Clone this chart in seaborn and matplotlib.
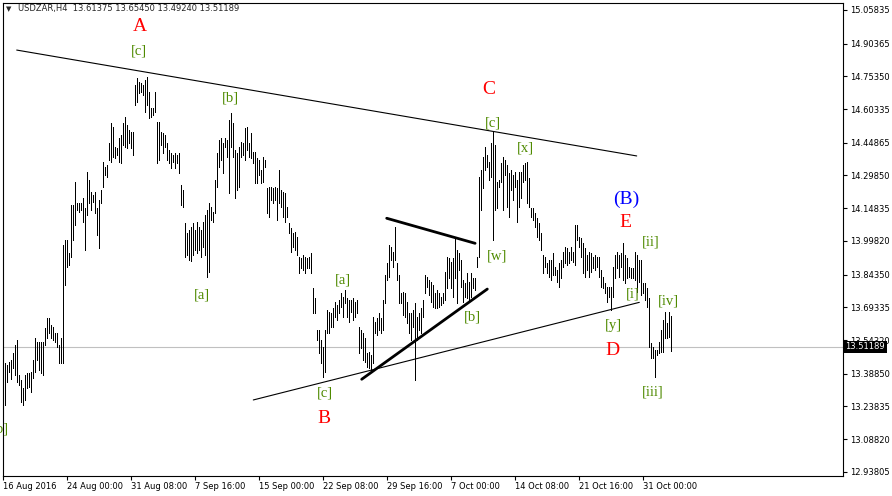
import numpy as np
import pandas as pd
import matplotlib
matplotlib.use("Agg")
import matplotlib.pyplot as plt
import matplotlib.transforms as mtransforms
import seaborn as sns

# ---------------- data ----------------
symbol = "USDZAR,H4"
last_ohlc = ["13.61375", "13.65450", "13.49240", "13.51189"]
last_price = 13.51189

highs = [
    13.383, 13.438, 13.429, 13.442, 13.452, 13.484, 13.520, 13.543, 13.383, 13.360,
    13.323, 13.383, 13.392, 13.392, 13.397, 13.452, 13.553, 13.534, 13.534, 13.534,
    13.534, 13.598, 13.644, 13.644, 13.612, 13.603, 13.576, 13.576, 13.520, 13.553,
    13.979, 14.002, 14.002, 13.943, 14.163, 14.163, 14.269, 14.172, 14.172, 14.172,
    14.195, 14.149, 14.315, 14.278, 14.223, 14.209, 14.223, 14.149, 14.186, 14.232,
    14.360, 14.337, 14.347, 14.448, 14.539, 14.521, 14.429, 14.425, 14.471, 14.484,
    14.539, 14.567, 14.530, 14.507, 14.498, 14.498, 14.714, 14.746, 14.728, 14.723,
    14.714, 14.737, 14.751, 14.682, 14.608, 14.608, 14.682, 14.544, 14.544, 14.498,
    14.494, 14.484, 14.448, 14.416, 14.402, 14.393, 14.402, 14.393, 14.402, 14.255,
    14.232, 14.080, 14.034, 14.048, 14.062, 14.080, 14.048, 14.085, 14.062, 14.048,
    14.085, 14.117, 14.140, 14.172, 14.154, 14.131, 14.278, 14.402, 14.461, 14.471,
    14.448, 14.471, 14.461, 14.553, 14.585, 14.539, 14.416, 14.402, 14.429, 14.452,
    14.448, 14.516, 14.521, 14.448, 14.494, 14.406, 14.406, 14.379, 14.370, 14.324,
    14.383, 14.370, 14.241, 14.246, 14.246, 14.241, 14.246, 14.241, 14.324, 14.232,
    14.223, 14.218, 14.154, 14.080, 14.057, 14.034, 14.039, 14.016, 13.924, 13.920,
    13.934, 13.924, 13.920, 13.924, 13.943, 13.782, 13.736, 13.589, 13.589, 13.543,
    13.511, 13.589, 13.681, 13.672, 13.667, 13.690, 13.718, 13.704, 13.727, 13.759,
    13.741, 13.773, 13.736, 13.727, 13.727, 13.736, 13.718, 13.727, 13.603, 13.589,
    13.576, 13.553, 13.484, 13.488, 13.475, 13.649, 13.626, 13.644, 13.667, 13.644,
    13.727, 13.842, 13.897, 13.979, 13.970, 13.947, 14.062, 13.897, 13.842, 13.759,
    13.764, 13.759, 13.718, 13.667, 13.667, 13.681, 13.713, 13.649, 13.667, 13.690,
    13.727, 13.842, 13.833, 13.819, 13.810, 13.796, 13.759, 13.773, 13.759, 13.741,
    13.759, 13.856, 13.924, 13.920, 13.901, 13.920, 14.016, 13.956, 13.943, 13.911,
    13.819, 13.805, 13.851, 13.810, 13.851, 13.828, 13.828, 13.924, 14.292, 14.324,
    14.383, 14.429, 14.393, 14.360, 14.448, 14.498, 14.438, 14.269, 14.278, 14.356,
    14.383, 14.370, 14.347, 14.310, 14.324, 14.301, 14.315, 14.278, 14.315, 14.315,
    14.347, 14.356, 14.360, 14.287, 14.149, 14.149, 14.126, 14.103, 14.080, 14.034,
    13.934, 13.924, 13.897, 13.911, 13.911, 13.943, 13.878, 13.865, 13.897, 13.911,
    13.947, 13.970, 13.966, 13.947, 13.970, 13.947, 14.071, 14.071, 14.016, 14.012,
    13.989, 13.966, 13.934, 13.947, 13.943, 13.924, 13.934, 13.924, 13.924, 13.865,
    13.833, 13.805, 13.787, 13.787, 13.787, 13.878, 13.934, 13.947, 13.934, 13.943,
    13.989, 13.934, 13.920, 13.878, 13.874, 13.874, 13.947, 13.934, 13.911, 13.911,
    13.805, 13.805, 13.782, 13.736, 13.530, 13.511, 13.498, 13.498, 13.534, 13.589,
    13.635, 13.672, 13.621, 13.672, 13.6545,
]

lows = [
    13.222, 13.245, 13.351, 13.397, 13.364, 13.415, 13.383, 13.351, 13.337, 13.259,
    13.245, 13.268, 13.323, 13.328, 13.305, 13.369, 13.397, 13.452, 13.406, 13.392,
    13.383, 13.520, 13.553, 13.576, 13.553, 13.543, 13.534, 13.511, 13.438, 13.438,
    13.438, 13.796, 13.878, 13.888, 13.924, 14.002, 14.071, 14.140, 14.131, 14.140,
    14.085, 13.956, 14.117, 14.172, 14.140, 14.177, 14.126, 14.025, 13.966, 14.172,
    14.246, 14.301, 14.292, 14.370, 14.360, 14.383, 14.379, 14.393, 14.360, 14.356,
    14.438, 14.429, 14.425, 14.448, 14.425, 14.393, 14.622, 14.636, 14.677, 14.682,
    14.668, 14.590, 14.622, 14.562, 14.567, 14.576, 14.590, 14.356, 14.370, 14.438,
    14.402, 14.429, 14.370, 14.356, 14.333, 14.360, 14.333, 14.356, 14.310, 14.163,
    14.154, 13.924, 13.934, 13.911, 13.906, 13.934, 13.956, 13.943, 13.956, 13.924,
    13.970, 13.934, 13.833, 13.856, 14.094, 14.085, 14.126, 14.246, 14.337, 14.370,
    14.310, 14.429, 14.383, 14.218, 14.429, 14.383, 14.195, 14.232, 14.246, 14.383,
    14.393, 14.370, 14.416, 14.383, 14.379, 14.356, 14.264, 14.264, 14.301, 14.264,
    14.269, 14.337, 14.126, 14.108, 14.186, 14.172, 14.186, 14.094, 14.172, 14.154,
    14.108, 14.085, 14.108, 14.034, 13.947, 13.970, 13.956, 13.934, 13.851, 13.874,
    13.865, 13.851, 13.874, 13.874, 13.851, 13.667, 13.667, 13.543, 13.484, 13.438,
    13.374, 13.397, 13.576, 13.576, 13.603, 13.603, 13.649, 13.635, 13.667, 13.695,
    13.649, 13.713, 13.649, 13.626, 13.672, 13.635, 13.649, 13.667, 13.484, 13.507,
    13.452, 13.442, 13.419, 13.415, 13.397, 13.438, 13.576, 13.566, 13.589, 13.576,
    13.589, 13.713, 13.819, 13.833, 13.911, 13.878, 13.911, 13.819, 13.713, 13.713,
    13.658, 13.649, 13.621, 13.576, 13.543, 13.603, 13.360, 13.543, 13.589, 13.576,
    13.649, 13.759, 13.787, 13.750, 13.718, 13.695, 13.690, 13.690, 13.695, 13.704,
    13.713, 13.727, 13.782, 13.828, 13.782, 13.741, 13.828, 13.713, 13.865, 13.787,
    13.718, 13.741, 13.736, 13.718, 13.741, 13.782, 13.773, 13.878, 13.924, 14.140,
    14.241, 14.324, 14.337, 14.278, 14.292, 14.002, 14.140, 14.149, 14.246, 14.269,
    14.140, 14.301, 14.154, 14.108, 14.232, 14.186, 14.246, 14.085, 14.154, 14.195,
    14.269, 14.278, 14.172, 14.154, 14.108, 14.094, 14.062, 14.016, 14.002, 13.956,
    13.851, 13.878, 13.851, 13.833, 13.819, 13.842, 13.842, 13.810, 13.787, 13.828,
    13.878, 13.897, 13.888, 13.897, 13.911, 13.901, 13.888, 14.002, 13.970, 13.924,
    13.851, 13.833, 13.865, 13.833, 13.856, 13.874, 13.865, 13.878, 13.833, 13.787,
    13.782, 13.759, 13.718, 13.741, 13.681, 13.741, 13.828, 13.874, 13.833, 13.878,
    13.819, 13.805, 13.828, 13.833, 13.828, 13.828, 13.819, 13.764, 13.810, 13.750,
    13.759, 13.727, 13.695, 13.511, 13.461, 13.461, 13.374, 13.475, 13.484, 13.488,
    13.488, 13.553, 13.553, 13.557, 13.4924,
]

date_labels = ["16 Aug 2016", "24 Aug 00:00", "31 Aug 08:00", "7 Sep 16:00",
               "15 Sep 00:00", "22 Sep 08:00", "29 Sep 16:00", "7 Oct 00:00",
               "14 Oct 08:00", "21 Oct 16:00", "31 Oct 00:00"]
bars_per_label = 32

price_ticks = [15.05835, 14.90365, 14.75350, 14.60335, 14.44865, 14.29850,
               14.14835, 13.99820, 13.84350, 13.69335, 13.54320, 13.38850,
               13.23835, 13.08820, 12.93805]

# drawn trend lines (bar index / price anchors)
line_start_bar = [6.7, 125.0, 191.7, 179.2]
line_start_price = [14.874, 13.268, 14.102, 13.363]
line_end_bar = [316.7, 318.0, 235.9, 242.0]
line_end_price = [14.388, 13.716, 13.987, 13.777]
line_heavy = [False, False, True, True]

# wave labels
wave_text = ["A", "[c]", "[b]", "[a]", "[b]", "C", "[c]", "[x]", "[a]", "[c]",
             "B", "[w]", "[b]", "(B)", "E", "[ii]", "[i]", "[iv]", "[y]", "D", "[iii]"]
wave_bar = [68.4, 68.0, 113.7, 99.2, -1.2, 242.9, 245.0, 260.9, 170.0, 160.9,
            160.4, 247.0, 234.7, 311.7, 310.9, 323.7, 314.7, 332.5, 305.0, 304.7, 324.7]
wave_price = [14.981, 14.871, 14.653, 13.750, 13.135, 14.695, 14.541, 14.426, 13.819, 13.299,
              13.181, 13.930, 13.650, 14.191, 14.082, 13.995, 13.755, 13.722, 13.609, 13.494, 13.306]
wave_color = ["red", "olive", "olive", "olive", "olive", "red", "olive", "olive", "olive", "olive",
              "red", "olive", "olive", "blue", "red", "olive", "olive", "olive", "olive", "red", "olive"]

# ---------------- drawing ----------------
sns.set_style("white")
plt.rcParams["font.family"] = ["DejaVu Sans"]

W, H = 892, 496
fig = plt.figure(figsize=(W / 100, H / 100), dpi=100)
ax = fig.add_axes([3 / W, 20 / H, 840 / W, 473 / H])

df = pd.DataFrame({"bar": np.arange(len(highs)), "high": highs, "low": lows})

ax.axhline(last_price, color="#c0c0c0", lw=0.8, zorder=0.5)
ax.vlines(df["bar"], df["low"], df["high"], color="black", lw=0.5,
          antialiased=False, zorder=2)

for b0, p0, b1, p1, heavy in zip(line_start_bar, line_start_price,
                                  line_end_bar, line_end_price, line_heavy):
    sns.lineplot(x=[b0, b1], y=[p0, p1], ax=ax, color="black",
                 lw=2.0 if heavy else 0.8, zorder=3)

color_map = {"red": "#ff0000", "blue": "#0000ff", "olive": "#4f8a00"}
for t, b, p, c in zip(wave_text, wave_bar, wave_price, wave_color):
    big = not t.startswith("[")
    ax.text(b, p, t, color=color_map[c], fontsize=14 if big else 10.5,
            family=["Liberation Serif", "DejaVu Serif"], ha="center", va="center",
            zorder=4, clip_on=False)

ax.set_xlim(-0.15, 419.85)
ax.set_ylim(12.919, 15.090)

ticks_x = np.arange(len(date_labels)) * bars_per_label
ax.set_xticks(ticks_x)
ax.set_xticklabels(date_labels, ha="left")
ax.set_yticks(price_ticks)
ax.set_yticklabels([f"{v:.5f}" for v in price_ticks])
ax.yaxis.tick_right()
ax.tick_params(axis="x", direction="out", length=3, width=0.8, pad=1.5,
               labelsize=6, colors="black", bottom=True)
ax.tick_params(axis="y", direction="out", length=3, width=0.8, pad=2,
               labelsize=6, colors="black", right=True, left=False)
for s in ax.spines.values():
    s.set_visible(True)
    s.set_color("black")
    s.set_linewidth(0.8)
ax.set_xlabel("")
ax.set_ylabel("")
ax.grid(False)

trans = mtransforms.blended_transform_factory(ax.transAxes, ax.transData)
ax.text(1.003, last_price, f"{last_price:.5f}", transform=trans, color="white",
        fontsize=6, ha="left", va="center", clip_on=False, zorder=10,
        bbox=dict(facecolor="black", edgecolor="none", pad=1.2))

fig.text(6 / W, 1 - 9 / H, "\u25bc", fontsize=5, va="center", ha="left")
fig.text(18 / W, 1 - 9 / H, symbol + "  " + " ".join(last_ohlc), fontsize=6,
         va="center", ha="left")

fig.savefig("out.png", dpi=100)
